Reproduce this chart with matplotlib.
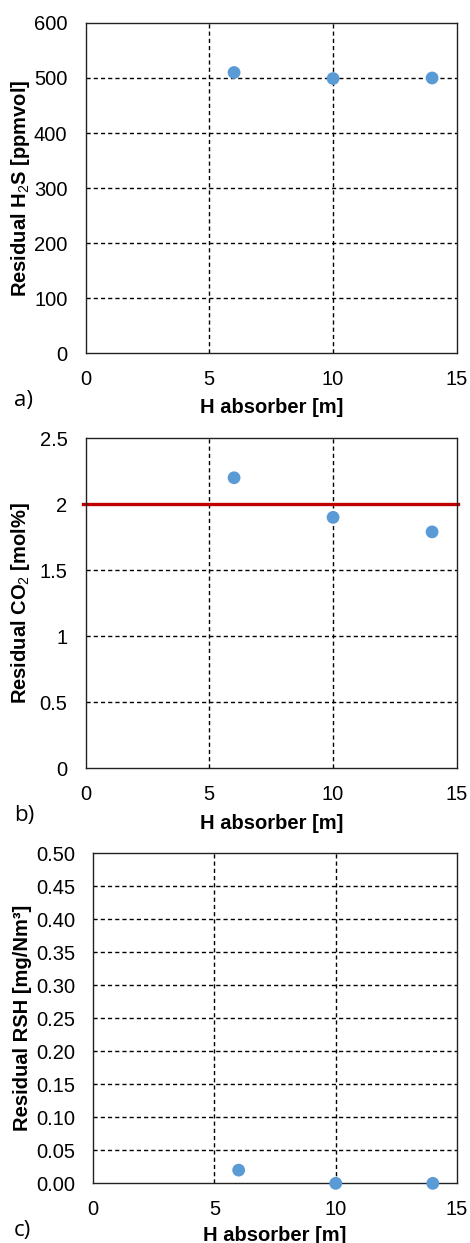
import matplotlib.pyplot as plt

plt.rcParams['font.family'] = ['Liberation Sans', 'DejaVu Sans']
plt.rcParams['mathtext.fontset'] = 'custom'
plt.rcParams['mathtext.rm'] = 'Liberation Sans'
plt.rcParams['mathtext.bf'] = 'Liberation Sans:bold'

# data
h_absorber = [6, 10, 14]
h2s = [510, 499, 500]
co2 = [2.2, 1.9, 1.79]
rsh = [0.02, 0.0, 0.0]
co2_limit = 2.0

point_color = '#5B9BD5'
grid_kw = dict(color='black', lw=1.0, ls=(0, (3, 2.2)))

fig = plt.figure(figsize=(4.70, 12.43), dpi=100)

# axes rects in figure fractions
ax_a = fig.add_axes([0.182, 0.716, 0.790, 0.2655])
ax_b = fig.add_axes([0.182, 0.382, 0.790, 0.2655])
ax_c = fig.add_axes([0.198, 0.048, 0.7745, 0.2655])


def style(ax, yticks, ylim, ylabel, panel, labx, fmt=None, xlpad=7):
    ax.set_xlim(0, 15)
    ax.set_ylim(*ylim)
    ax.set_xticks([0, 5, 10, 15])
    ax.set_yticks(yticks)
    if fmt:
        ax.set_yticklabels([fmt.format(t) for t in yticks])
    ax.tick_params(length=0, labelsize=14.5)
    ax.tick_params(axis='y', pad=13)
    ax.tick_params(axis='x', pad=12)
    for s in ax.spines.values():
        s.set_linewidth(1.0)
        s.set_color('#222222')
    # only interior grid lines
    for t in [5, 10]:
        ax.axvline(t, zorder=1, **grid_kw)
    for t in yticks[1:-1]:
        ax.axhline(t, zorder=1, **grid_kw)
    ax.set_xlabel('H absorber [m]', fontsize=14.5, fontweight='bold',
                  labelpad=xlpad)
    ax.set_ylabel(ylabel, fontsize=14.5, fontweight='bold')
    ax.yaxis.set_label_coords(labx, 0.5)
    y0 = ax.get_position().y0
    fig.text(14 / 470, y0 - 47 / 1243, panel, fontsize=16,
             family='Open Sans', ha='left', va='center')


style(ax_a, [0, 100, 200, 300, 400, 500, 600], (0, 600),
      r'Residual H$_{2}$S [ppmvol]', 'a)', -0.145)
ax_a.scatter(h_absorber, h2s, s=85, color=point_color, zorder=3,
             edgecolors='none', clip_on=False)

style(ax_b, [0, 0.5, 1, 1.5, 2, 2.5], (0, 2.5),
      r'Residual CO$_{2}$ [mol%]', 'b)', -0.145)
ax_b.set_yticklabels(['0', '0.5', '1', '1.5', '2', '2.5'])
ax_b.axhline(co2_limit, xmin=-0.008, xmax=1.003, color='#C00000', lw=2.4,
             zorder=2, clip_on=False)
ax_b.scatter(h_absorber, co2, s=85, color=point_color, zorder=3,
             edgecolors='none', clip_on=False)

style(ax_c, [i * 0.05 for i in range(11)], (0, 0.5),
      'Residual RSH [mg/Nm³]', 'c)', -0.168, fmt='{:.2f}', xlpad=5)
ax_c.scatter(h_absorber, rsh, s=85, color=point_color, zorder=3,
             edgecolors='none', clip_on=False)

fig.savefig('out.png', dpi=100)
